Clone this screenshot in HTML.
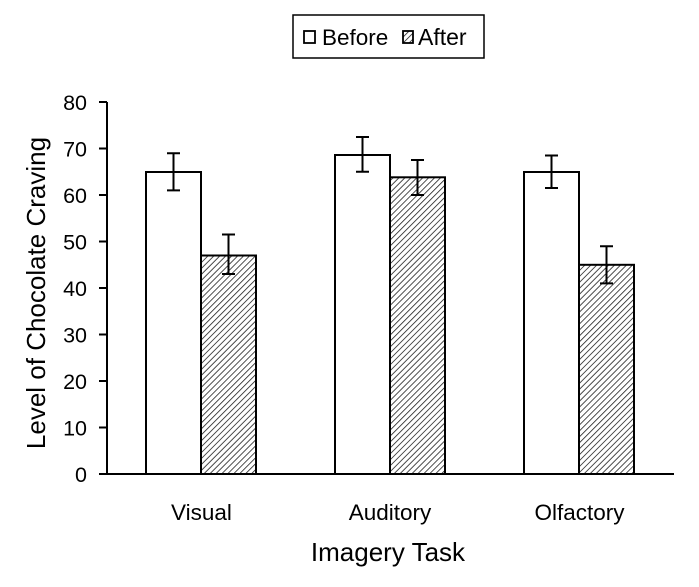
<!DOCTYPE html>
<html><head><meta charset="utf-8"><style>body{margin:0;background:#fff}</style></head><body>
<svg width="699" height="582" xmlns="http://www.w3.org/2000/svg" font-family="Liberation Sans, sans-serif">
<defs><pattern id="h" patternUnits="userSpaceOnUse" width="4.2" height="4.2" patternTransform="rotate(45)"><rect width="4.2" height="4.2" fill="#fff"/><line x1="0" y1="0" x2="0" y2="4.2" stroke="#222" stroke-width="1.6"/></pattern></defs>
<rect x="293" y="15" width="191" height="43" fill="#fff" stroke="#000" stroke-width="1.5"/>
<rect x="304" y="31" width="11" height="12" fill="#fff" stroke="#000" stroke-width="1.8"/>
<text x="322" y="45" font-size="22.5">Before</text>
<rect x="403" y="31" width="10" height="12" fill="url(#h)" stroke="#000" stroke-width="1.8"/>
<text x="418" y="45" font-size="23">After</text>
<g stroke="#000" stroke-width="2" fill="none">
<line x1="107" y1="102" x2="107" y2="474"/>
<line x1="99" y1="474" x2="674" y2="474"/>
<line x1="99" y1="102" x2="107" y2="102"/><line x1="99" y1="148.5" x2="107" y2="148.5"/><line x1="99" y1="195" x2="107" y2="195"/><line x1="99" y1="241.5" x2="107" y2="241.5"/><line x1="99" y1="288" x2="107" y2="288"/><line x1="99" y1="334.5" x2="107" y2="334.5"/><line x1="99" y1="381" x2="107" y2="381"/><line x1="99" y1="427.5" x2="107" y2="427.5"/>
<rect x="146" y="172" width="55" height="302" fill="#fff"/>
<rect x="201" y="255.5" width="55" height="218.5" fill="url(#h)"/>
<rect x="335" y="155" width="55" height="319" fill="#fff"/>
<rect x="390" y="177.3" width="55" height="296.7" fill="url(#h)"/>
<rect x="524" y="172" width="55" height="302" fill="#fff"/>
<rect x="579" y="264.8" width="55" height="209.2" fill="url(#h)"/>
<path d="M173.5 190.4V153.2M167 190.4h13M167 153.2h13"/>
<path d="M228.5 274V234.5M222 274h13M222 234.5h13"/>
<path d="M362.5 171.7V137M356 171.7h13M356 137h13"/>
<path d="M417.5 195V160M411 195h13M411 160h13"/>
<path d="M551.5 188V155.5M545 188h13M545 155.5h13"/>
<path d="M606.5 283.4V246.2M600 283.4h13M600 246.2h13"/>
</g>
<g font-size="21.5" text-anchor="end">
<text x="87" y="110">80</text><text x="87" y="156.5">70</text><text x="87" y="203">60</text><text x="87" y="249.5">50</text><text x="87" y="296">40</text><text x="87" y="342.5">30</text><text x="87" y="389">20</text><text x="87" y="435.5">10</text><text x="87" y="482">0</text>
</g>
<g font-size="22.5" text-anchor="middle">
<text x="201.5" y="520">Visual</text>
<text x="390" y="520">Auditory</text>
<text x="579.5" y="520">Olfactory</text>
</g>
<text x="388" y="561" font-size="26" text-anchor="middle">Imagery Task</text>
<text transform="translate(45,293) rotate(-90)" font-size="26" text-anchor="middle">Level of Chocolate Craving</text>
</svg>
</body></html>
